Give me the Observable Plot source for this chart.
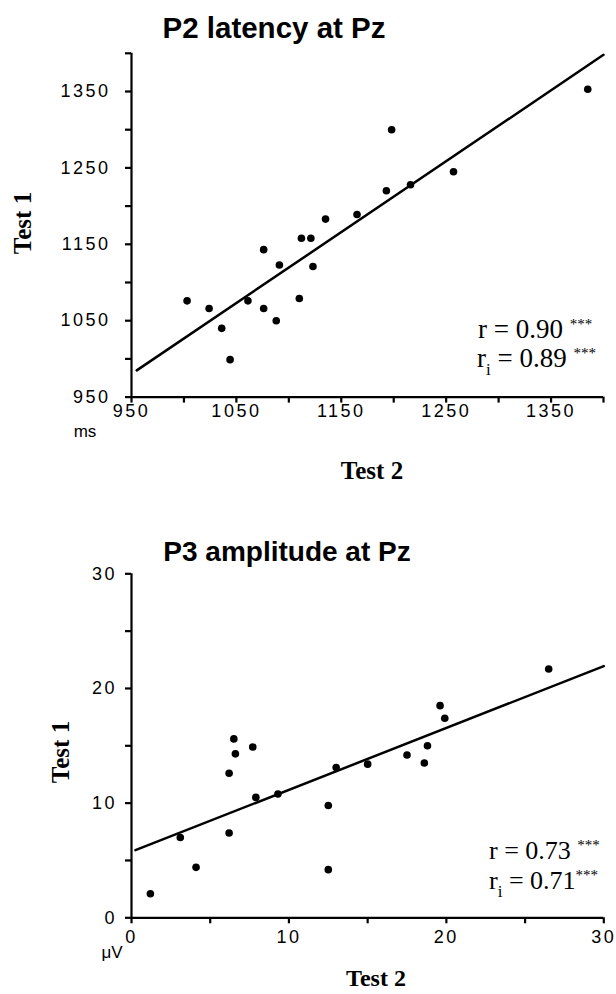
<!DOCTYPE html>
<html><head><meta charset="utf-8">
<script src="https://cdn.jsdelivr.net/npm/d3@7"></script>
<script src="https://cdn.jsdelivr.net/npm/@observablehq/plot@0.6"></script>
<style>
body{margin:0;background:#fff;}
#wrap{position:relative;width:616px;height:994px;overflow:hidden;background:#fff;}
.chart{position:absolute;left:0;}
.chart svg text{letter-spacing:2.5px;}
.t{position:absolute;white-space:nowrap;line-height:1;color:#000;}
.t sup{line-height:0;font-size:15px;vertical-align:9px;}
.t sub{line-height:0;font-size:17px;vertical-align:-8px;}
</style></head><body><div id="wrap"></div><script>
// ---- P2 latency at Pz (ms) ----
const p2Test2 = [1003,1024,1036,1044,1061,1076,1076,1088,1091,1110,1112,1121,1123,1135,1165,1193,1198,1216,1257,1385];
const p2Test1 = [1076,1066,1040,999,1076,1143,1066,1050,1123,1079,1158,1158,1121,1183,1189,1220,1300,1228,1245,1353];
const p2FitTest2 = [955, 1400];
const p2FitTest1 = [985, 1398];
const p2Ticks = [950,1000,1050,1100,1150,1200,1250,1300,1350,1400];
const p2TickLabels = [950,1050,1150,1250,1350];
const p2Stats = ["r = 0.90 <sup>***</sup>", "r<sub>i</sub> = 0.89 <sup>***</sup>"];

// ---- P3 amplitude at Pz (µV) ----
const p3Test2 = [1.2,3.1,4.1,6.2,6.2,6.5,6.6,7.7,7.9,9.3,12.5,12.5,13.0,15.0,17.5,18.6,18.8,19.6,19.9,26.5];
const p3Test1 = [2.1,7.0,4.4,12.6,7.4,15.6,14.3,14.9,10.5,10.8,9.8,4.2,13.1,13.4,14.2,13.5,15.0,18.5,17.4,21.7];
const p3FitTest2 = [0.25, 30];
const p3FitTest1 = [5.9, 21.95];
const p3Ticks = [0,5,10,15,20,25,30];
const p3TickLabels = [0,10,20,30];
const p3Stats = ["r = 0.73 <sup>***</sup>", "r<sub>i</sub> = 0.71<sup>***</sup>"];

const wrap = document.getElementById("wrap");
const SANS = "'Liberation Sans', Arial, Helvetica, sans-serif";
const SERIF = "'Liberation Serif', 'Times New Roman', serif";

function scatter({xs, ys, fx, fy, ticks, labels, domain, height, mt, mb, ml, mr, yPad, xPad}) {
  const pts = xs.map((x, i) => ({x, y: ys[i]}));
  const fit = fx.map((x, i) => ({x, y: fy[i]}));
  const fmt = d => labels.includes(d) ? String(d) : "";
  return Plot.plot({
    width: 616, height,
    marginLeft: ml, marginRight: mr, marginTop: mt, marginBottom: mb,
    x: {domain}, y: {domain},
    style: {fontFamily: SANS, fontSize: "18px", color: "#000", background: "transparent", overflow: "visible"},
    marks: [
      Plot.axisY({ticks, tickFormat: fmt, tickSize: 6, tickPadding: yPad, strokeWidth: 2.2, label: null}),
      Plot.axisX({ticks, tickFormat: fmt, tickSize: 6, tickPadding: xPad, strokeWidth: 2.2, label: null}),
      Plot.ruleX([domain[0]], {strokeWidth: 2.2}),
      Plot.ruleY([domain[0]], {strokeWidth: 2.2}),
      Plot.line(fit, {x: "x", y: "y", strokeWidth: 2.5}),
      Plot.dot(pts, {x: "x", y: "y", r: 3.8, fill: "#000", stroke: null})
    ]
  });
}

function addChart(svg, top) {
  const d = document.createElement("div");
  d.className = "chart";
  d.style.top = top + "px";
  d.appendChild(svg);
  wrap.appendChild(d);
}

addChart(scatter({xs: p2Test2, ys: p2Test1, fx: p2FitTest2, fy: p2FitTest1, ticks: p2Ticks, labels: p2TickLabels,
  domain: [950, 1400], height: 500, mt: 52.8, mb: 103.4, ml: 131, mr: 13, yPad: 15, xPad: 1}), 0);
addChart(scatter({xs: p3Test2, ys: p3Test1, fx: p3FitTest2, fy: p3FitTest1, ticks: p3Ticks, labels: p3TickLabels,
  domain: [0, 30], height: 494, mt: 73.3, mb: 76.7, ml: 131, mr: 12.7, yPad: 8.5, xPad: 6}), 500);

// text placed by baseline
function txt(html, {x, y, size, family, weight = "normal", anchor = "start", rotate = false}) {
  const d = document.createElement("div");
  d.className = "t";
  d.innerHTML = html;
  d.style.font = `${weight} ${size}px ${family}`;
  d.style.lineHeight = "1";
  if (rotate) {
    d.style.left = x + "px";
    d.style.top = y + "px";
    d.style.transform = "translate(-50%,-50%) rotate(-90deg)";
  } else {
    const k = family === SERIF ? 0.8375 : 0.8465;
    d.style.left = x + "px";
    d.style.top = (y - k * size) + "px";
    if (anchor === "middle") d.style.transform = "translateX(-50%)";
  }
  wrap.appendChild(d);
}

txt("P2 latency at Pz", {x: 274, y: 38, size: 29.5, family: SANS, weight: "bold", anchor: "middle"});
txt("P3 amplitude at Pz", {x: 287, y: 562, size: 28, family: SANS, weight: "bold", anchor: "middle"});
txt("Test 1", {x: 22, y: 223, size: 25, family: SERIF, weight: "bold", rotate: true});
txt("Test 1", {x: 60, y: 752, size: 25, family: SERIF, weight: "bold", rotate: true});
txt("Test 2", {x: 372, y: 479, size: 25, family: SERIF, weight: "bold", anchor: "middle"});
txt("Test 2", {x: 376, y: 986, size: 24, family: SERIF, weight: "bold", anchor: "middle"});
txt("ms", {x: 85, y: 437, size: 17, family: SANS, anchor: "middle"});
txt("\u03bcV", {x: 112, y: 958, size: 17, family: SANS, anchor: "middle"});
txt(p2Stats[0], {x: 478, y: 339, size: 27, family: SERIF});
txt(p2Stats[1], {x: 477, y: 368, size: 27, family: SERIF});
txt(p3Stats[0], {x: 489, y: 860, size: 26, family: SERIF});
txt(p3Stats[1], {x: 489, y: 890, size: 26, family: SERIF});
</script></body></html>
